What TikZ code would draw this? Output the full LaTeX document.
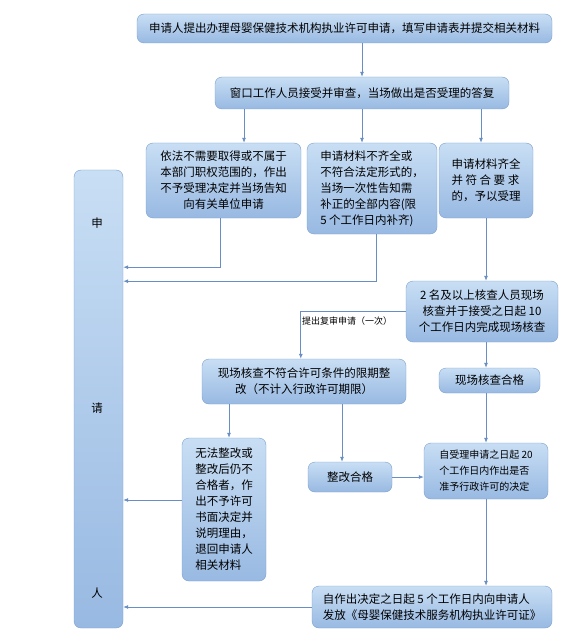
\documentclass[tikz,border=0pt]{standalone}
\usepackage{fontspec}
\setmainfont{Noto Sans CJK SC}
\usetikzlibrary{arrows.meta}

\definecolor{boxtop}{RGB}{200,222,244}
\definecolor{boxbot}{RGB}{152,185,226}
\definecolor{boxline}{RGB}{122,158,204}
\definecolor{flowc}{RGB}{104,142,196}

\tikzset{
  box/.style={draw=boxline, rounded corners=7pt, top color=boxtop, bottom color=boxbot, align=center, inner sep=2pt},
  flow/.style={draw=flowc, line width=0.8pt, -{Latex[length=5pt,width=4pt]}},
  note/.style={font=\fontsize{9}{11}\selectfont, inner sep=1pt}
}

\begin{document}
\begin{tikzpicture}[x=1pt, y=-1pt, font=\fontsize{11.5}{16}\selectfont]

        \useasboundingbox (0,0) rectangle (580,636);

        % Nodes
        \node (apply) [box, minimum width=415, minimum height=29] at (344.5, 28.5) {申请人提出办理母婴保健技术机构执业许可申请，填写申请表并提交相关材料};
        \node (window) [box, minimum width=294, minimum height=32] at (362, 93) {窗口工作人员接受并审查，当场做出是否受理的答复};

        \node (reject) [box, minimum width=155, minimum height=75] at (223.5, 180.5) {依法不需要取得或不属于\\本部门职权范围的，作出\\不予受理决定并当场告知\\向有关单位申请};
        \node (supply) [box, align=left, minimum width=130, minimum height=91] at (372, 188.5) {申请材料不齐全或\\不符合法定形式的，\\当场一次性告知需\\补正的全部内容(限\\5 个工作日内补齐)};
        \node (accept) [box, align=left, minimum width=94, minimum height=75] at (486, 180.5) {申请材料齐全\\并 符 合 要 求\\的，予以受理};

        \node (applicant) [box, minimum width=49, minimum height=458] at (98.5, 399) {};
        \node (shen) at (97, 223) {申};
        \node (qing) at (97, 408) {请};
        \node (ren) at (97, 593) {人};

        \node (check) [box, minimum width=152, minimum height=61] at (482, 311.5) {2 名及以上核查人员现场\\核查并于接受之日起 10\\个工作日内完成现场核查};
        \node (rectify) [box, minimum width=204, minimum height=45] at (304, 381.5) {现场核查不符合许可条件的限期整\\改（不计入行政许可期限）};
        \node (pass) [box, minimum width=101, minimum height=25] at (489.5, 380.5) {现场核查合格};

        \node (refuse) [box, align=left, minimum width=84, minimum height=143] at (224, 509.5) {无法整改或\\整改后仍不\\合格者，作\\出不予许可\\书面决定并\\说明理由，\\退回申请人\\相关材料};
        \node (fixed) [box, minimum width=84, minimum height=30] at (350, 477) {整改合格};
        \node (decide) [box, align=left, font=\fontsize{10}{16}\selectfont, minimum width=124, minimum height=56] at (486, 471) {自受理申请之日起 20\\个工作日内作出是否\\准予行政许可的决定};
        \node (licence) [box, align=left, minimum width=240, minimum height=42] at (432, 607) {自作出决定之日起 5 个工作日内向申请人\\发放《母婴保健技术服务机构执业许可证》};

        % Edges
        \draw[flow] (apply.south -| window.north) -- (window.north);
        \draw[flow] ([xshift=20.5]reject.north |- window.south) -- ([xshift=20.5]reject.north);
        \draw[flow] ([xshift=-10]supply.north |- window.south) -- ([xshift=-10]supply.north);
        \draw[flow] ([xshift=-5]accept.north |- window.south) -- ([xshift=-5]accept.north);

        \draw[flow] ([xshift=-3.5]reject.south) -- ++(0,49) coordinate (r1) -- (r1 -| applicant.east);
        \draw[flow] ([xshift=4]supply.south) -- ++(0,47) coordinate (s1) -- (s1 -| applicant.east);
        \draw[flow] (accept.south) -- (accept.south |- check.north);

        \draw[flow] (check.west) -- ++(-105,0) coordinate (c1) node[note, below right, yshift=-4] {提出复审申请（一次）} -- (c1 |- rectify.north);
        \draw[flow] ([xshift=4]check.south) -- ([xshift=4]check.south |- pass.north);

        \draw[flow] ([xshift=-75]rectify.south) -- ([xshift=-75]rectify.south |- refuse.north);
        \draw[flow] ([xshift=38]rectify.south) -- ([xshift=38]rectify.south |- fixed.north);
        \draw[flow] (fixed.east) -- (fixed.east -| decide.west);
        \draw[flow] (decide.north |- pass.south) -- (decide.north);

        \draw[flow] ([yshift=9.5]refuse.west) -- ([yshift=9.5]refuse.west -| applicant.east);
        \draw[flow] (decide.south) -- (decide.south |- licence.north);
        \draw[flow] (licence.west) -- (licence.west -| applicant.east);

\end{tikzpicture}
\end{document}
